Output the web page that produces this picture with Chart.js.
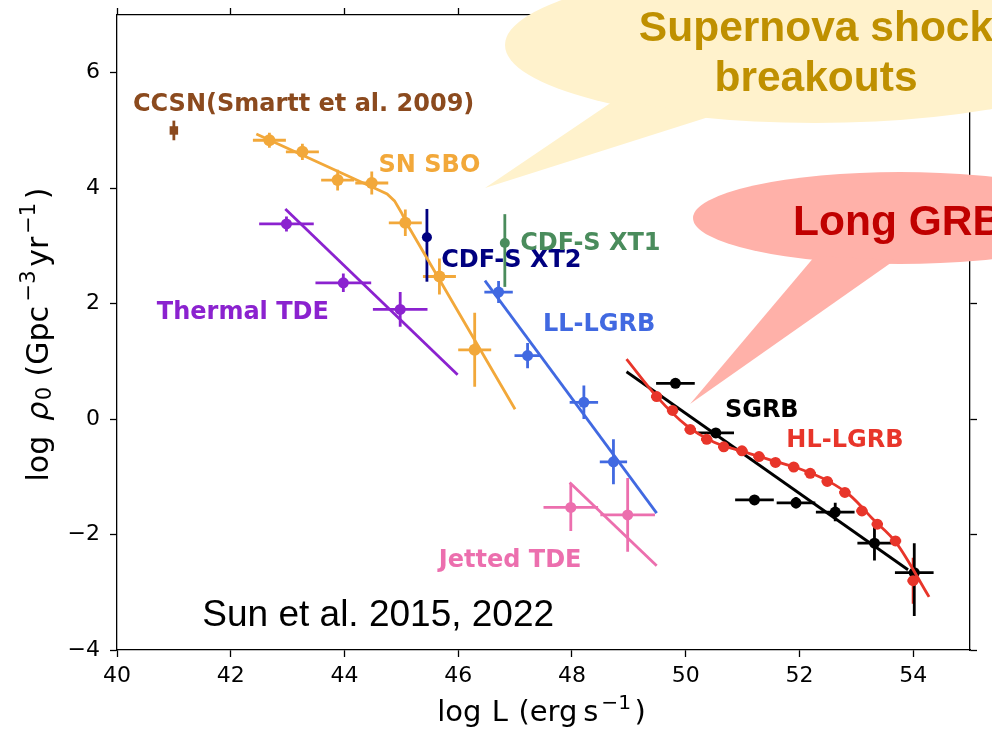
<!DOCTYPE html>
<html>
<head>
<meta charset="utf-8">
<script src="https://cdn.jsdelivr.net/npm/chart.js@4/dist/chart.umd.min.js"></script>
<style>
  html, body { margin: 0; padding: 0; background: #ffffff; }
  #wrap { width: 992px; height: 735px; position: relative; }
</style>
</head>
<body>
<div id="wrap"><canvas id="c" width="992" height="735"></canvas></div>
<script>
// ---- axis ticks ----
const xTicks = [40, 42, 44, 46, 48, 50, 52, 54];
const yTicks = [-4, -2, 0, 2, 4, 6];

// ---- CCSN (Smartt et al. 2009) ----
const ccsnX = [41.0];
const ccsnY = [5.0];
const ccsnYErr = [0.17];

// ---- supernova shock breakouts ----
const sboX = [42.68, 43.26, 43.88, 44.48, 45.07, 45.67, 46.29];
const sboY = [4.83, 4.63, 4.14, 4.09, 3.40, 2.47, 1.20];
const sboXErr = [0.29, 0.29, 0.29, 0.29, 0.29, 0.29, 0.29];
const sboYErr = [0.13, 0.14, 0.18, 0.20, 0.23, 0.31, 0.64];
const sboFitX = [42.45, 44.60, 44.75, 44.88, 45.00, 45.10, 47.00];
const sboFitY = [4.94, 3.97, 3.90, 3.78, 3.58, 3.38, 0.17];

// ---- thermal TDEs ----
const tdeX = [42.98, 43.98, 44.98];
const tdeY = [3.38, 2.36, 1.90];
const tdeXErr = [0.48, 0.49, 0.48];
const tdeYErr = [0.13, 0.16, 0.30];
const tdeFitX = [42.96, 45.99];
const tdeFitY = [3.64, 0.77];

// ---- CDF-S XT2 / XT1 ----
const xt2X = [45.45];
const xt2Y = [3.15];
const xt2YUp = [0.49];
const xt2YDown = [0.77];
const xt1X = [46.82];
const xt1Y = [3.05];
const xt1YUp = [0.50];
const xt1YDown = [0.76];

// ---- low-luminosity long GRBs ----
const llX = [46.71, 47.22, 48.21, 48.73];
const llY = [2.20, 1.10, 0.29, -0.74];
const llXErr = [0.25, 0.23, 0.25, 0.24];
const llYErr = [0.19, 0.22, 0.29, 0.39];
const llFitX = [46.47, 49.49];
const llFitY = [2.40, -1.63];

// ---- jetted TDEs ----
const jtdeX = [47.98, 48.98];
const jtdeY = [-1.53, -1.66];
const jtdeXErr = [0.48, 0.48];
const jtdeYErr = [0.41, 0.64];
const jtdeFitX = [47.96, 49.49];
const jtdeFitY = [-1.10, -2.54];

// ---- short GRBs ----
const sgrbX = [49.82, 50.53, 51.21, 51.94, 52.63, 53.32, 54.02];
const sgrbY = [0.62, -0.24, -1.40, -1.45, -1.61, -2.15, -2.66];
const sgrbXErr = [0.34, 0.32, 0.34, 0.34, 0.34, 0.30, 0.34];
const sgrbYUp = [0.05, 0.08, 0.08, 0.10, 0.16, 0.30, 0.51];
const sgrbYDown = [0.05, 0.08, 0.08, 0.10, 0.16, 0.30, 0.75];
const sgrbFitX = [48.96, 53.91];
const sgrbFitY = [0.82, -2.61];

// ---- high-luminosity long GRBs ----
const hlX = [49.49, 49.77, 50.08, 50.37, 50.67, 50.99, 51.29, 51.58, 51.90, 52.19, 52.49, 52.80, 53.10, 53.37, 53.69, 54.00];
const hlY = [0.39, 0.15, -0.18, -0.35, -0.48, -0.55, -0.65, -0.75, -0.83, -0.94, -1.08, -1.27, -1.59, -1.82, -2.11, -2.80];
const hlXErr = [0.10, 0.10, 0.10, 0.10, 0.10, 0.10, 0.10, 0.10, 0.10, 0.10, 0.10, 0.10, 0.10, 0.10, 0.10, 0.10];
const hlYErr = [0.07, 0.07, 0.07, 0.07, 0.07, 0.07, 0.07, 0.07, 0.07, 0.07, 0.07, 0.07, 0.08, 0.08, 0.08, 0.40];
const hlFitX = [48.96, 49.50, 50.00, 50.50, 51.00, 51.50, 52.00, 52.50, 52.90, 53.30, 53.70, 54.28];
const hlFitY = [1.04, 0.38, -0.10, -0.40, -0.56, -0.71, -0.86, -1.07, -1.33, -1.74, -2.14, -3.08];

// ---- population names ----
const labelTexts = ['CCSN(Smartt et al. 2009)', 'SN SBO', 'Thermal TDE', 'CDF-S XT2', 'CDF-S XT1',
                    'LL-LGRB', 'Jetted TDE', 'SGRB', 'HL-LGRB'];

// ---- colours ----
const C = {
  ccsn: '#8B4A1E', sbo: '#F2A83A', tde: '#8B22CF', xt2: '#000080', xt1: '#4A8C5C',
  ll: '#4169E1', jtde: '#EC6FAE', sgrb: '#000000', hl: '#E8352A'
};

const pts = (xs, ys) => xs.map((v, i) => ({ x: v, y: ys[i] }));

function points(xs, ys, color, extra) {
  return Object.assign({
    type: 'scatter', data: pts(xs, ys), showLine: false,
    backgroundColor: color, borderColor: color, pointRadius: 5.5, pointHoverRadius: 5.5,
    pointBorderWidth: 0, errColor: color
  }, extra || {});
}
function fit(xs, ys, color, extra) {
  return Object.assign({
    type: 'line', data: pts(xs, ys), showLine: true, borderColor: color, backgroundColor: color,
    borderWidth: 2.8, pointRadius: 0, pointHoverRadius: 0, fill: false, tension: 0
  }, extra || {});
}

const datasets = [
  points(ccsnX, ccsnY, C.ccsn, { pointStyle: 'rect', pointRadius: 6, errYUp: ccsnYErr, errYDown: ccsnYErr }),
  points(sboX, sboY, C.sbo, { pointRadius: 6, errX: sboXErr, errYUp: sboYErr, errYDown: sboYErr }),
  fit(sboFitX, sboFitY, C.sbo),
  points(tdeX, tdeY, C.tde, { errX: tdeXErr, errYUp: tdeYErr, errYDown: tdeYErr }),
  fit(tdeFitX, tdeFitY, C.tde),
  points(xt2X, xt2Y, C.xt2, { pointRadius: 5, errYUp: xt2YUp, errYDown: xt2YDown }),
  points(xt1X, xt1Y, C.xt1, { pointRadius: 5, errYUp: xt1YUp, errYDown: xt1YDown }),
  points(llX, llY, C.ll, { errX: llXErr, errYUp: llYErr, errYDown: llYErr }),
  fit(llFitX, llFitY, C.ll),
  points(jtdeX, jtdeY, C.jtde, { errX: jtdeXErr, errYUp: jtdeYErr, errYDown: jtdeYErr }),
  fit(jtdeFitX, jtdeFitY, C.jtde),
  points(hlX, hlY, C.hl, { errX: hlXErr, errYUp: hlYErr, errYDown: hlYErr }),
  fit(hlFitX, hlFitY, C.hl, { cubicInterpolationMode: 'monotone' }),
  points(sgrbX, sgrbY, C.sgrb, { errX: sgrbXErr, errYUp: sgrbYUp, errYDown: sgrbYDown }),
  fit(sgrbFitX, sgrbFitY, C.sgrb)
];

// where each population name sits, in data units (left edge, vertical centre)
const labelAnchors = [
  [40.28, 5.45], [44.60, 4.39], [40.70, 1.84], [45.70, 2.75], [47.09, 3.04],
  [47.49, 1.63], [45.66, -2.45], [50.69, 0.14], [51.77, -0.38]
];
const labelColors = [C.ccsn, C.sbo, C.tde, C.xt2, C.xt1, C.ll, C.jtde, C.sgrb, C.hl];

// error bars drawn under the markers
const errorBars = {
  id: 'errorBars',
  beforeDatasetsDraw(chart) {
    const { ctx, chartArea: a, scales: { x, y } } = chart;
    ctx.save();
    ctx.beginPath();
    ctx.rect(a.left, a.top, a.right - a.left, a.bottom - a.top);
    ctx.clip();
    ctx.lineWidth = 2.8;
    ctx.lineCap = 'butt';
    chart.data.datasets.forEach(ds => {
      if (!ds.errColor) return;
      ctx.strokeStyle = ds.errColor;
      ds.data.forEach((p, i) => {
        const px = x.getPixelForValue(p.x), py = y.getPixelForValue(p.y);
        ctx.beginPath();
        if (ds.errX) {
          ctx.moveTo(x.getPixelForValue(p.x - ds.errX[i]), py);
          ctx.lineTo(x.getPixelForValue(p.x + ds.errX[i]), py);
        }
        if (ds.errYUp) {
          ctx.moveTo(px, y.getPixelForValue(p.y + ds.errYUp[i]));
          ctx.lineTo(px, y.getPixelForValue(p.y - ds.errYDown[i]));
        }
        ctx.stroke();
      });
    });
    ctx.restore();
  }
};

// typeset a label made of runs (size factor, baseline shift, italic) centred on (cx, cy)
function drawRuns(ctx, runs, base, cx, cy, rot) {
  const fontFor = r => (r.it ? 'italic ' : '') + (base * (r.s || 1)).toFixed(1) + 'px "DejaVu Sans"';
  let total = 0;
  runs.forEach(r => {
    if (r.gap) { total += r.gap * base; return; }
    ctx.font = fontFor(r);
    r.w = ctx.measureText(r.t).width;
    total += r.w;
  });
  ctx.save();
  ctx.translate(cx, cy);
  ctx.rotate(rot);
  ctx.textAlign = 'left';
  ctx.textBaseline = 'alphabetic';
  ctx.fillStyle = '#000';
  let pos = -total / 2;
  const baseShift = base * 0.36;   // puts the x-height centre on the anchor
  runs.forEach(r => {
    if (r.gap) { pos += r.gap * base; return; }
    ctx.font = fontFor(r);
    ctx.fillText(r.t, pos, baseShift + (r.dy || 0) * base);
    pos += r.w;
  });
  ctx.restore();
}

const xTitleRuns = [
  { t: 'log' }, { gap: 0.36 }, { t: 'L' }, { gap: 0.36 }, { t: '(erg' }, { gap: 0.2 },
  { t: 's' }, { gap: 0.1 }, { t: '\u22121', s: 0.7, dy: -0.42 }, { gap: 0.12 }, { t: ')' }
];
const yTitleRuns = [
  { t: 'log' }, { gap: 0.5 }, { t: '\u03C1', it: true }, { gap: 0.05 }, { t: '0', s: 0.7, dy: 0.12 }, { gap: 0.35 },
  { t: '(Gpc' }, { gap: 0.15 }, { t: '\u22123', s: 0.7, dy: -0.42 }, { gap: 0.12 }, { t: 'yr' }, { gap: 0.1 },
  { t: '\u22121', s: 0.7, dy: -0.42 }, { gap: 0.12 }, { t: ')' }
];

const axisTitles = {
  id: 'axisTitles',
  afterDraw(chart) {
    const { ctx, chartArea: a } = chart;
    drawRuns(ctx, xTitleRuns, 29, (a.left + a.right) / 2 - 2, 711, 0);
    drawRuns(ctx, yTitleRuns, 30, 37, (a.top + a.bottom) / 2 + 2, -Math.PI / 2);
  }
};

// population names and the reference note
const textLabels = {
  id: 'textLabels',
  afterDatasetsDraw(chart) {
    const { ctx, scales: { x, y } } = chart;
    ctx.save();
    ctx.textAlign = 'left';
    ctx.textBaseline = 'middle';
    ctx.font = 'bold 24px "DejaVu Sans"';
    labelTexts.forEach((t, i) => {
      ctx.fillStyle = labelColors[i];
      ctx.fillText(t, x.getPixelForValue(labelAnchors[i][0]), y.getPixelForValue(labelAnchors[i][1]));
    });
    ctx.fillStyle = '#000000';
    ctx.font = '37px "Liberation Sans", Arial, sans-serif';
    ctx.textBaseline = 'alphabetic';
    ctx.fillText('Sun et al. 2015, 2022', x.getPixelForValue(41.50), y.getPixelForValue(-3.58));
    ctx.restore();
  }
};

// speech-bubble callouts over the top right
function bubble(ctx, cx, cy, rx, ry, tail, fill) {
  ctx.fillStyle = fill;
  ctx.beginPath();
  ctx.ellipse(cx, cy, rx, ry, 0, 0, Math.PI * 2);
  ctx.fill();
  ctx.beginPath();
  ctx.moveTo(tail[0][0], tail[0][1]);
  ctx.lineTo(tail[1][0], tail[1][1]);
  ctx.lineTo(tail[2][0], tail[2][1]);
  ctx.closePath();
  ctx.fill();
}
const callouts = {
  id: 'callouts',
  afterDraw(chart) {
    const ctx = chart.ctx;
    ctx.save();
    bubble(ctx, 815, 45, 310, 78, [[615, 100], [715, 115], [485, 188]], '#FFF2CC');
    bubble(ctx, 900, 218, 207, 46, [[815, 256], [895, 260], [690, 404]], '#FFB1A9');
    ctx.font = 'bold 42.5px "Liberation Sans", Arial, sans-serif';
    ctx.textBaseline = 'alphabetic';
    ctx.textAlign = 'center';
    ctx.fillStyle = '#BF9000';
    ctx.fillText('Supernova shock', 816, 41);
    ctx.fillText('breakouts', 816, 91);
    ctx.textAlign = 'left';
    ctx.fillStyle = '#C00000';
    ctx.fillText('Long GRB', 793, 235);
    ctx.restore();
  }
};

const minusFmt = v => (v < 0 ? '\u2212' + Math.abs(v) : String(v));
const tickFont = { family: '"DejaVu Sans"', size: 22 };
const gridOpts = { display: true, drawOnChartArea: false, drawTicks: true, tickLength: 7, tickWidth: 1.3, tickColor: '#000' };
const borderOpts = { display: true, color: '#000', width: 1.3 };
const noPadH = s => { s.paddingLeft = 0; s.paddingRight = 0; };
const noPadV = s => { s.paddingTop = 0; s.paddingBottom = 0; };

new Chart(document.getElementById('c'), {
  type: 'scatter',
  data: { datasets },
  options: {
    responsive: false,
    animation: false,
    devicePixelRatio: 1,
    layout: { padding: 0 },
    plugins: { legend: { display: false }, tooltip: { enabled: false } },
    scales: {
      x: {
        type: 'linear', position: 'bottom', min: 40, max: 55,
        afterBuildTicks: s => { s.ticks = xTicks.map(v => ({ value: v })); },
        afterFit: s => { s.height = 85; noPadH(s); },
        ticks: { font: tickFont, color: '#000', padding: 6, maxRotation: 0, callback: minusFmt },
        grid: gridOpts, border: borderOpts
      },
      xTop: {
        type: 'linear', position: 'top', min: 40, max: 55,
        afterBuildTicks: s => { s.ticks = xTicks.map(v => ({ value: v })); },
        afterFit: s => { s.height = 15; noPadH(s); },
        ticks: { display: false }, grid: gridOpts, border: borderOpts
      },
      y: {
        type: 'linear', position: 'left', min: -4, max: 7,
        afterBuildTicks: s => { s.ticks = yTicks.map(v => ({ value: v })); },
        afterFit: s => { s.width = 117; noPadV(s); },
        ticks: { font: tickFont, color: '#000', padding: 10, callback: minusFmt },
        grid: gridOpts, border: borderOpts
      },
      yRight: {
        type: 'linear', position: 'right', min: -4, max: 7,
        afterBuildTicks: s => { s.ticks = yTicks.map(v => ({ value: v })); },
        afterFit: s => { s.width = 22; noPadV(s); },
        ticks: { display: false }, grid: gridOpts, border: borderOpts
      }
    }
  },
  plugins: [errorBars, textLabels, axisTitles, callouts]
});
</script>
</body>
</html>
